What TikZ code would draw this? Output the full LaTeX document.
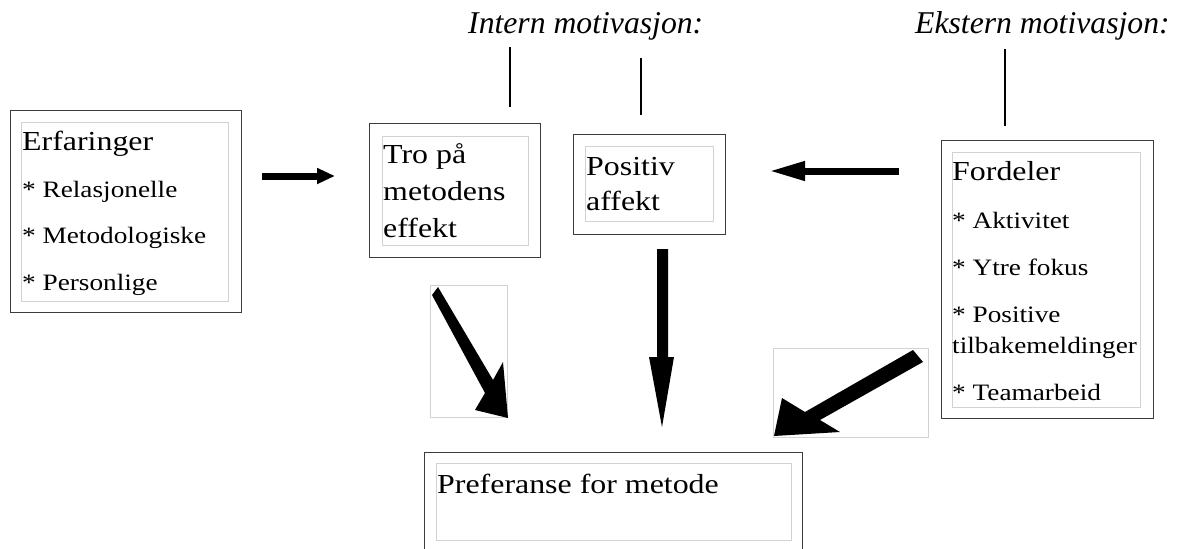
\documentclass[tikz,border=0pt]{standalone}
\usepackage{fontspec}
\setmainfont{Liberation Serif}[FakeStretch=1.16]
\newfontfamily\plainserif{Liberation Serif}
\usetikzlibrary{arrows.meta}
\definecolor{boxline}{HTML}{3C3C3C}
\definecolor{innerline}{HTML}{D2D2D2}
\begin{document}
\begin{tikzpicture}[x=1pt,y=-1pt,
 outerbox/.style={draw=boxline,line width=1.3pt,rectangle,inner sep=0pt,anchor=north west},
 innerbox/.style={draw=innerline,line width=1pt,rectangle,inner sep=0pt,anchor=north west},
 headtext/.style={anchor=base west,inner sep=0pt,font=\fontsize{27.5}{33}\selectfont},
 itemtext/.style={anchor=base west,inner sep=0pt,font=\fontsize{23.5}{28}\selectfont},
 motivtext/.style={anchor=base west,inner sep=0pt,font=\plainserif\itshape\fontsize{31.7}{36}\selectfont},
 tie/.style={draw=black,line width=1.5pt},
 blockarrow/.style={fill=black},
]
\useasboundingbox (0,0) rectangle (1179,549);
\clip (0,0) rectangle (1179,549);

% --- Erfaringer
\node[outerbox,minimum width=231pt,minimum height=202pt] (erfO) at (10,110) {};
\node[innerbox,minimum width=207pt,minimum height=179pt] (erfI) at (21,122) {};
\node[headtext] (erf0) at (22,150) {Erfaringer};
\node[itemtext] (erf1) at (22,197) {* Relasjonelle};
\node[itemtext] (erf2) at (22,243) {* Metodologiske};
\node[itemtext] (erf3) at (22,290) {* Personlige};

% --- Tro paa metodens effekt
\node[outerbox,minimum width=171pt,minimum height=134pt] (troO) at (369,123) {};
\node[innerbox,minimum width=146pt,minimum height=109pt] (troI) at (382,136) {};
\node[headtext] (tro1) at (383,163) {Tro på};
\node[headtext] (tro2) at (383,200) {metodens};
\node[headtext] (tro3) at (383,237) {effekt};

% --- Positiv affekt
\node[outerbox,minimum width=152pt,minimum height=100pt] (posO) at (573,134) {};
\node[innerbox,minimum width=128pt,minimum height=75pt] (posI) at (585,146) {};
\node[headtext] (pos1) at (586,175) {Positiv};
\node[headtext] (pos2) at (586,210) {affekt};

% --- Fordeler
\node[outerbox,minimum width=212pt,minimum height=278pt] (forO) at (941,140) {};
\node[innerbox,minimum width=188pt,minimum height=255pt] (forI) at (952,152) {};
\node[headtext] (for0) at (952,180) {Fordeler};
\node[itemtext] (for1) at (952,228) {* Aktivitet};
\node[itemtext] (for2) at (952,275) {* Ytre fokus};
\node[itemtext] (for3) at (952,322) {* Positive};
\node[itemtext] (for3b) at (952,353) {tilbakemeldinger};
\node[itemtext] (for4) at (952,400) {* Teamarbeid};

% --- Preferanse for metode
\node[outerbox,minimum width=378pt,minimum height=110pt] (prefO) at (424,452) {};
\node[innerbox,minimum width=355pt,minimum height=77pt] (prefI) at (436,463) {};
\node[headtext] (pref1) at (437,493) {Preferanse for metode};

% --- motivation labels and ties
\node[motivtext] (intern) at (468,33) {Intern motivasjon:};
\node[motivtext] (ekstern) at (915,33) {Ekstern motivasjon:};
\coordinate (t1a) at (510,47);  \coordinate (t1b) at (510,107);
\coordinate (t2a) at (641,58);  \coordinate (t2b) at (641,115);
\coordinate (t3a) at (1005,49); \coordinate (t3b) at (1005,126);
\draw[tie] (t1a) -- (t1b);
\draw[tie] (t2a) -- (t2b);
\draw[tie] (t3a) -- (t3b);

% --- horizontal arrows
\coordinate (h1a) at (262,176); \coordinate (h1b) at (335,176);
\draw[line width=7pt,-{Triangle[length=18pt,width=15pt]}] (h1a) -- (h1b);
\coordinate (h2a) at (899,171); \coordinate (h2b) at (769,171);
\draw[line width=7pt,-{Triangle[length=36pt,width=18pt]}] (h2a) -- (h2b);

% --- frames of the slanted arrows
\node[innerbox,minimum width=77pt,minimum height=132pt] (frameL) at (430,285) {};
\node[innerbox,minimum width=155pt,minimum height=89pt] (frameR) at (773,348) {};

% --- slanted arrow from Tro
\fill[blockarrow] (438,287) -- (493,380) -- (503,362) -- (508,418) -- (475,410) -- (485,393) -- (432,295) -- cycle;
% --- slanted arrow from Fordeler
\fill[blockarrow] (913,350) -- (805,412) -- (782,398) -- (774,436) -- (840,432) -- (820,420) -- (923,362) -- cycle;
% --- vertical arrow from Positiv affekt
\fill[blockarrow] (657,249) -- (668,249) -- (668,357) -- (674,357) -- (662,427) -- (649,357) -- (657,357) -- cycle;
\end{tikzpicture}
\end{document}
